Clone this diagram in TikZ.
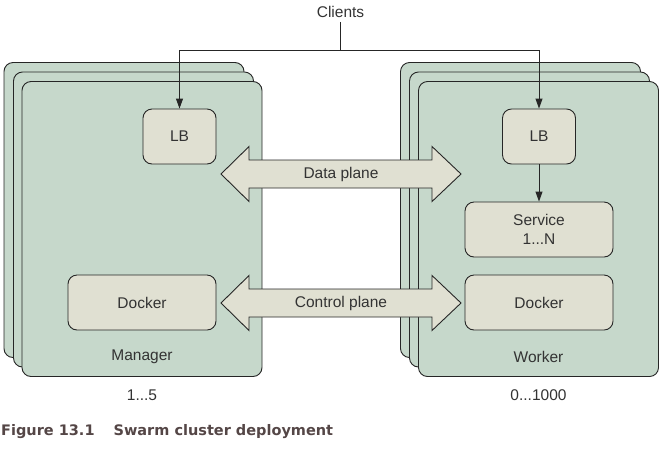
\documentclass[tikz,border=0pt]{standalone}
\usepackage{fontspec}
\setmainfont{Liberation Sans}
\newfontfamily\capfont{DejaVu Sans}
\usetikzlibrary{arrows.meta}
\definecolor{cardgreen}{HTML}{C6D8CB}
\definecolor{boxgrey}{HTML}{E0E0D2}
\definecolor{inkgrey}{HTML}{333333}
\definecolor{capred}{HTML}{544646}
\tikzset{
  card/.style={draw=black!85,fill=cardgreen,rounded corners=9pt,line width=0.9pt,
    minimum width=240pt,minimum height=295pt},
  unit/.style={draw=black!85,fill=boxgrey,rounded corners=9pt,line width=0.9pt,
    text=inkgrey,font=\fontsize{15.5}{19}\selectfont,align=center},
  lbl/.style={text=inkgrey,font=\fontsize{15.5}{19}\selectfont},
  flow/.style={draw=black!85,line width=0.9pt,-{Triangle[length=10pt,width=7pt]}},
  plane/.style={draw=black!85,fill=boxgrey,line width=0.9pt,line join=miter}
}
\begin{document}
\begin{tikzpicture}[x=1pt,y=-1pt]
		\useasboundingbox (0,0) rectangle (671,448);
		% manager stack
		\node[card] (mgrback) at (124,210){};
		\node[card] (mgrmid) at (133.5,219.5){};
		\node[card] (mgr) at (142,229){};
		% worker stack
		\node[card] (wrkback) at (520.5,210){};
		\node[card] (wrkmid) at (529.5,219.5){};
		\node[card] (wrk) at (538.5,229){};
		\node[unit,minimum width=73pt,minimum height=55pt] (lbm) at (179.5,136.5){LB};
		\node[unit,minimum width=73pt,minimum height=55pt] (lbw) at (539,136.5){LB};
		\node[unit,minimum width=148pt,minimum height=55pt] (svc) at (539,229.5){Service\\1...N};
		\node[unit,minimum width=148pt,minimum height=55pt] (dockm) at (142,302.5){Docker};
		\node[unit,minimum width=148pt,minimum height=55pt] (dockw) at (539,302.5){Docker};
		\node[lbl] at (142,357){Manager};
		\node[lbl] at (538.5,357){Worker};
		\node[lbl] (nmgr) at (142,395){1...5};
		\node[lbl] (nwrk) at (538.5,395){0...1000};
		% clients
		\node[lbl,inner sep=1pt] (clients) at (340.5,12){Clients};
		\coordinate (split) at (340.5,50);
		\draw[draw=black!85,line width=0.9pt,shorten <=3pt] (clients.south)--(split);
		\draw[flow] (split)-|(lbm);
		\draw[flow] (split)-|(lbw);
		\draw[flow] (lbw)--(svc);
		% planes
		\foreach \ya/\txt/\nm in {174/Data plane/data,303/Control plane/ctrl}{
			\draw[plane] (221,\ya)--++(28,-27.5)--++(0,13.5)--++(183,0)--++(0,-13.5)--++(29,27.5)
				--++(-29,27.5)--++(0,-13.5)--++(-183,0)--++(0,13.5)--cycle;
			\node[lbl] (\nm) at (341,\ya){\txt};
		}
		\node[anchor=west,inner sep=0,text=capred,font=\capfont\bfseries\fontsize{14.5}{17}\selectfont] (caption) at (1,432){Figure 13.1\hspace{19pt}Swarm cluster deployment};
	\end{tikzpicture}
\end{document}
